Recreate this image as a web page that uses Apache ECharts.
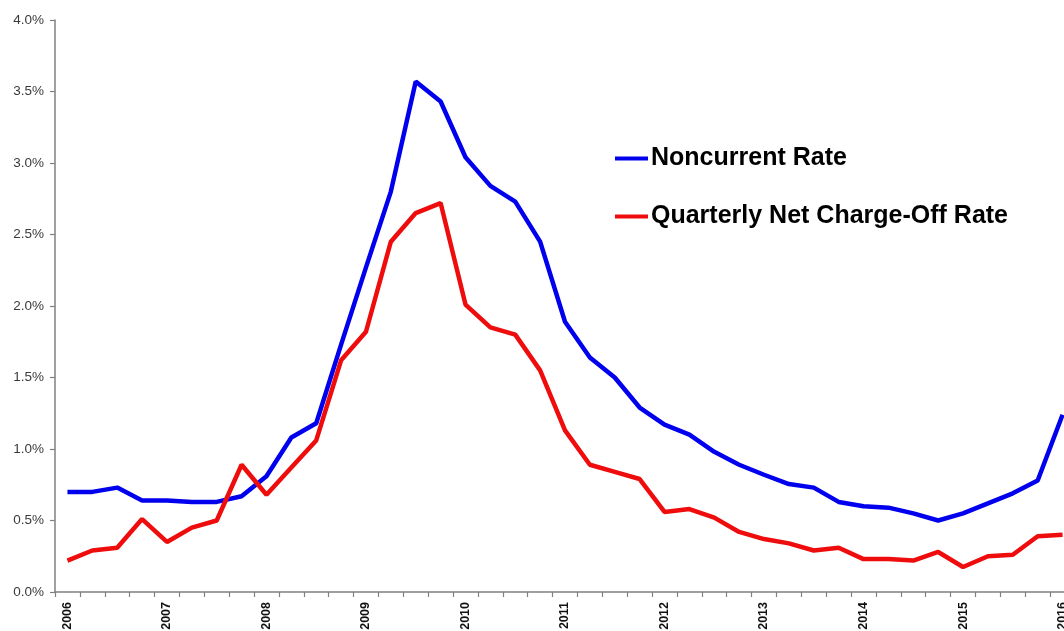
<!DOCTYPE html>
<html>
<head>
<meta charset="utf-8">
<script src="https://cdn.jsdelivr.net/npm/echarts@6/dist/echarts.min.js"></script>
<style>
  html, body { margin: 0; padding: 0; background: #fff; }
  #chart { width: 1064px; height: 631px; }
</style>
</head>
<body>
<div id="chart"></div>
<script>
// Quarterly periods, 2006 Q1 through 2016 Q1
const quarters = [
  '2006Q1','2006Q2','2006Q3','2006Q4',
  '2007Q1','2007Q2','2007Q3','2007Q4',
  '2008Q1','2008Q2','2008Q3','2008Q4',
  '2009Q1','2009Q2','2009Q3','2009Q4',
  '2010Q1','2010Q2','2010Q3','2010Q4',
  '2011Q1','2011Q2','2011Q3','2011Q4',
  '2012Q1','2012Q2','2012Q3','2012Q4',
  '2013Q1','2013Q2','2013Q3','2013Q4',
  '2014Q1','2014Q2','2014Q3','2014Q4',
  '2015Q1','2015Q2','2015Q3','2015Q4',
  '2016Q1'
];

// Rates in percent
const noncurrentRate = [
  0.70, 0.70, 0.73, 0.64, 0.64, 0.63, 0.63, 0.67,
  0.81, 1.08, 1.18, 1.73, 2.27, 2.80, 3.57, 3.43,
  3.04, 2.84, 2.73, 2.45, 1.89, 1.64, 1.50, 1.29,
  1.17, 1.10, 0.98, 0.89, 0.82, 0.755, 0.73, 0.63,
  0.60, 0.59, 0.55, 0.50, 0.55, 0.62, 0.69, 0.78,
  1.24
];

const netChargeOffRate = [
  0.22, 0.29, 0.31, 0.51, 0.35, 0.45, 0.50, 0.89,
  0.68, 0.87, 1.06, 1.62, 1.82, 2.45, 2.65, 2.72,
  2.01, 1.85, 1.80, 1.55, 1.13, 0.89, 0.84, 0.79,
  0.56, 0.58, 0.52, 0.42, 0.37, 0.34, 0.29, 0.31,
  0.23, 0.23, 0.22, 0.28, 0.175, 0.25, 0.26, 0.39,
  0.40
];

const seriesNames = ['Noncurrent Rate', 'Quarterly Net Charge-Off Rate'];

const chart = echarts.init(document.getElementById('chart'), null, { renderer: 'canvas' });

const axisGray = '#808080';

chart.setOption({
  backgroundColor: '#ffffff',
  animation: false,
  // plot area runs past the right edge of the canvas, so the last band is cut off
  grid: {
    left: 55, width: 1020, top: 20, height: 572,
    containLabel: false,
    outerBoundsMode: 'none'
  },
  legend: {
    orient: 'vertical',
    left: 615,
    top: 146,
    padding: 0,
    itemWidth: 33,
    itemHeight: 4,
    itemGap: 33,
    icon: 'rect',
    data: seriesNames,
    textStyle: {
      fontFamily: 'Liberation Sans, Arial, sans-serif',
      fontSize: 25,
      fontWeight: 'bold',
      color: '#000',
      padding: [0, 0, 0, -2]
    }
  },
  xAxis: {
    type: 'category',
    data: quarters,
    boundaryGap: true,
    axisLine: { lineStyle: { color: axisGray, width: 1.5 } },
    axisTick: { show: true, interval: 0, length: 5, lineStyle: { color: axisGray, width: 1.2 } },
    axisLabel: {
      interval: 3,
      rotate: 90,
      margin: 10,
      fontFamily: 'Liberation Sans, Arial, sans-serif',
      fontSize: 12.5,
      fontWeight: 'bold',
      color: '#111',
      formatter: v => v.slice(0, 4)
    },
    splitLine: { show: false }
  },
  yAxis: {
    type: 'value',
    min: 0,
    max: 4,
    interval: 0.5,
    axisLine: { show: true, lineStyle: { color: axisGray, width: 1.5 } },
    axisTick: { show: true, length: 5, lineStyle: { color: axisGray, width: 1.2 } },
    axisLabel: {
      margin: 11,
      fontFamily: 'Liberation Sans, Arial, sans-serif',
      fontSize: 13.5,
      color: '#3a3a3a',
      formatter: v => v.toFixed(1) + '%'
    },
    splitLine: { show: false }
  },
  series: [
    {
      name: seriesNames[0],
      type: 'line',
      data: noncurrentRate,
      symbol: 'none',
      lineStyle: { color: '#0000ee', width: 4.5 },
      itemStyle: { color: '#0000ee' },
      z: 3
    },
    {
      name: seriesNames[1],
      type: 'line',
      data: netChargeOffRate,
      symbol: 'none',
      lineStyle: { color: '#ee0c0c', width: 4.5 },
      itemStyle: { color: '#ee0c0c' },
      z: 4
    }
  ]
});
</script>
</body>
</html>
